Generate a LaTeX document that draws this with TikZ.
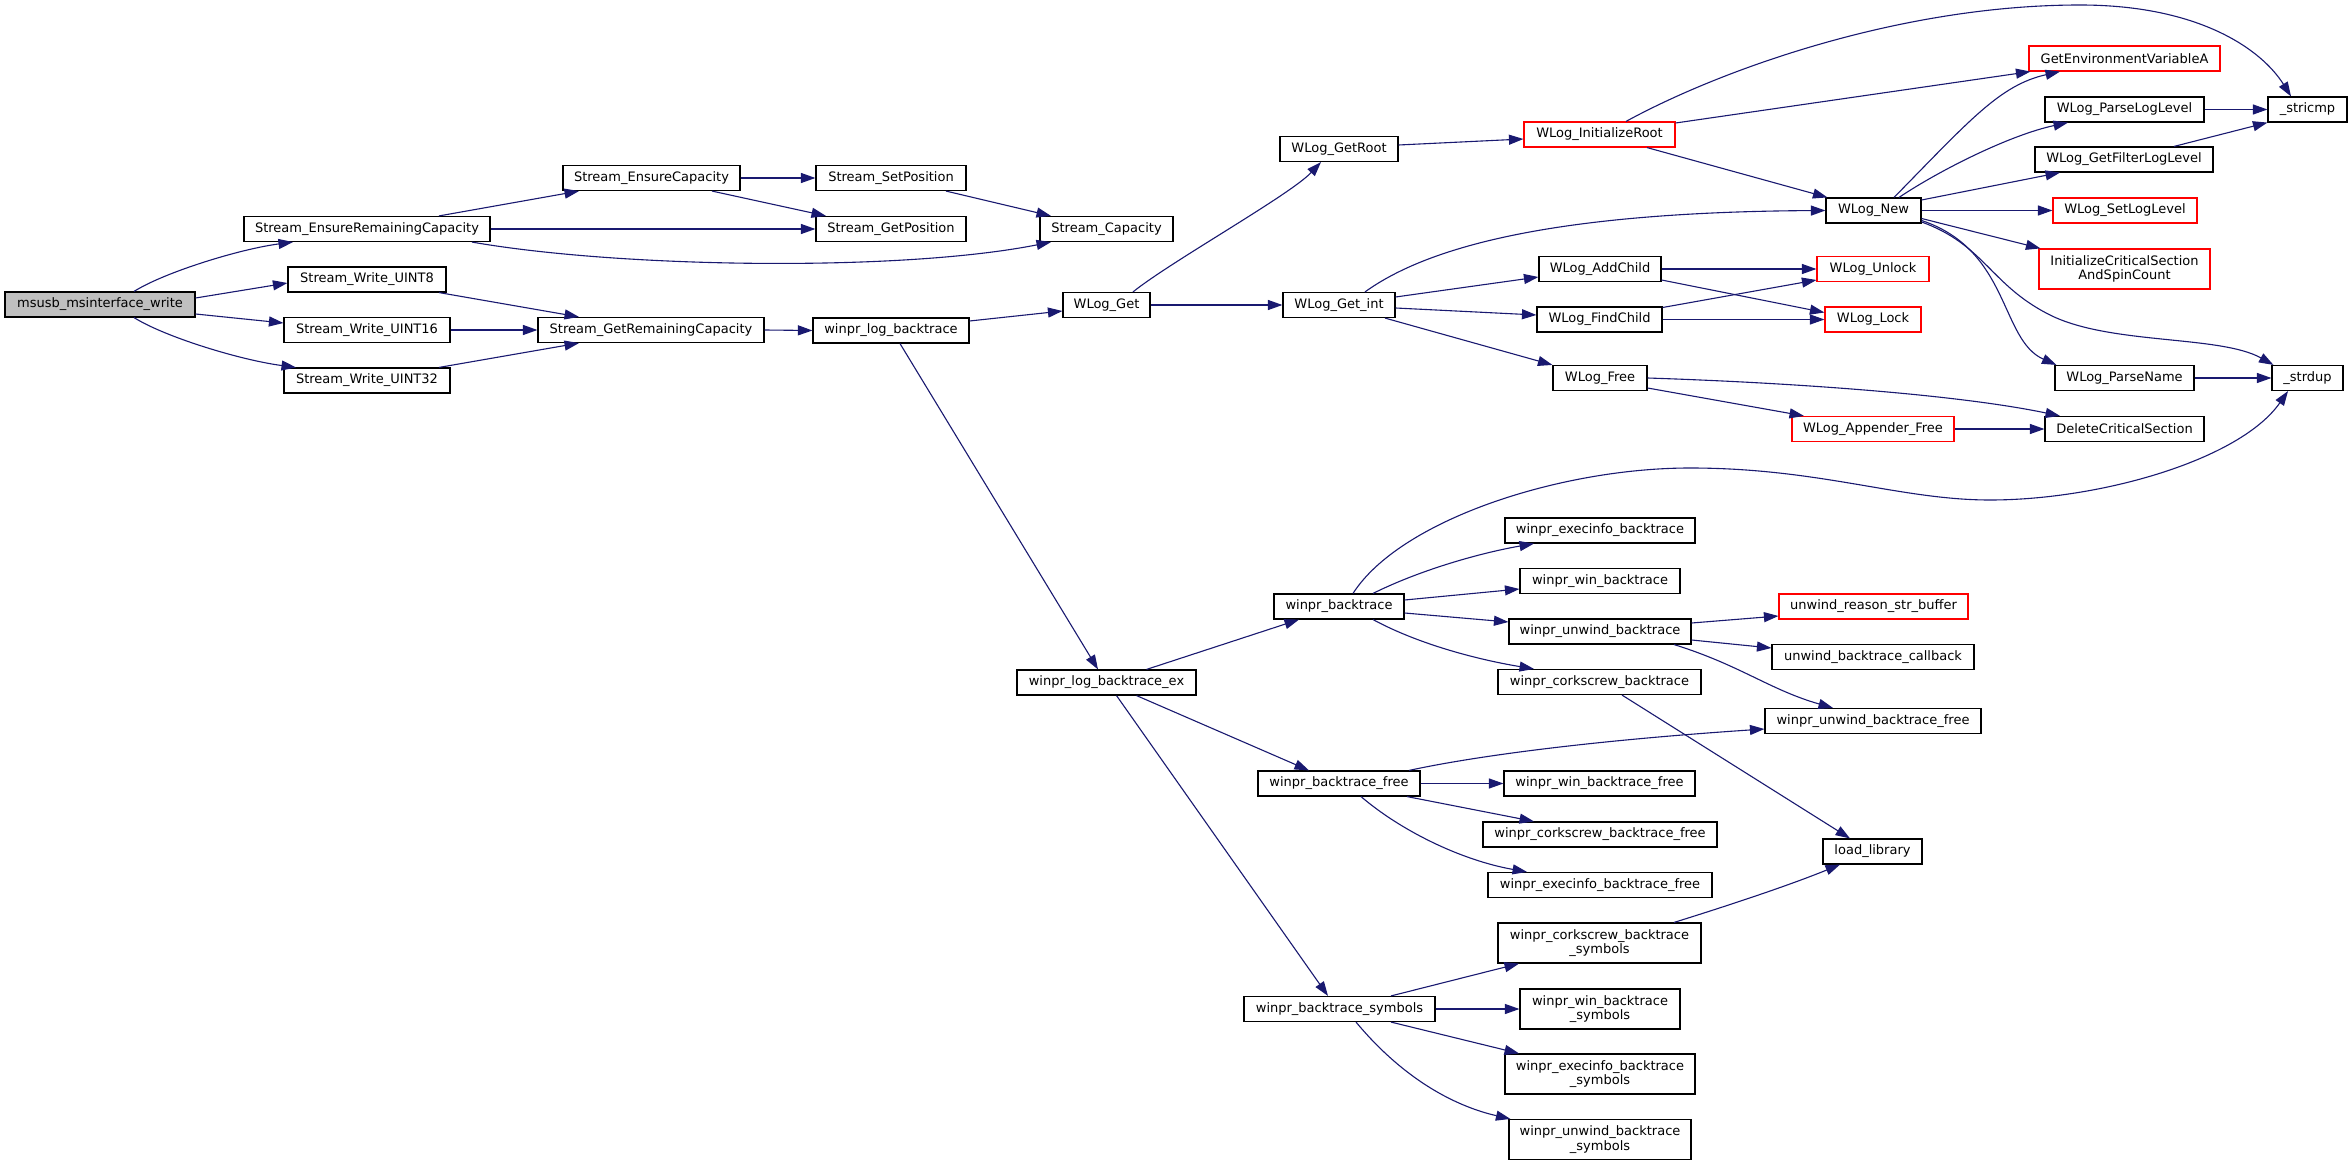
\documentclass[tikz,border=0pt]{standalone}
\usepackage{fontspec}
\setmainfont{DejaVu Sans}
\usetikzlibrary{arrows.meta,calc}
\definecolor{edgeblue}{RGB}{25,25,112}
\definecolor{rootgray}{RGB}{191,191,191}
\begin{document}
\begin{tikzpicture}[x=1pt,y=-1pt,
  box/.style={draw=black, line width=1.15pt, fill=white, rectangle, inner sep=0pt,
    font=\fontsize{13}{14.5}\selectfont, align=center, minimum height=25pt},
  redbox/.style={box, draw=red},
  rootbox/.style={box, fill=rootgray},
  edge/.style={draw=edgeblue, line width=1.1pt, -{Triangle[length=14.5pt,width=10pt]}},
]
\fill[white] (0,0) rectangle (2352,1166);
\useasboundingbox (0,0) rectangle (2352,1166);

\node[rootbox, minimum width=190pt] (msusb) at (100,304.5) {msusb\_msinterface\_write};
\node[box, minimum width=246pt] (serc) at (367,229) {Stream\_EnsureRemainingCapacity};
\node[box, minimum width=158pt] (swu8) at (367,279.5) {Stream\_Write\_UINT8};
\node[box, minimum width=166pt] (swu16) at (367,330) {Stream\_Write\_UINT16};
\node[box, minimum width=166pt] (swu32) at (367,380.5) {Stream\_Write\_UINT32};
\node[box, minimum width=177pt] (sec) at (651.5,178) {Stream\_EnsureCapacity};
\node[box, minimum width=226pt] (sgrc) at (651,330) {Stream\_GetRemainingCapacity};
\node[box, minimum width=150pt] (ssp) at (891,178) {Stream\_SetPosition};
\node[box, minimum width=150pt] (sgp) at (891,229) {Stream\_GetPosition};
\node[box, minimum width=133pt] (scap) at (1106.5,229) {Stream\_Capacity};
\node[box, minimum width=156pt] (wlb) at (891,330.5) {winpr\_log\_backtrace};
\node[box, minimum width=87pt] (wget) at (1106.5,305) {WLog\_Get};
\node[box, minimum width=118pt] (wgetroot) at (1339,149) {WLog\_GetRoot};
\node[box, minimum width=112pt] (wgetint) at (1339,305) {WLog\_Get\_int};
\node[redbox, minimum width=151pt] (winitroot) at (1599.5,134.5) {WLog\_InitializeRoot};
\node[redbox, minimum width=191pt] (geva) at (2124.5,58.5) {GetEnvironmentVariableA};
\node[box, minimum width=159pt] (wpll) at (2124.5,109.5) {WLog\_ParseLogLevel};
\node[box, minimum width=79pt] (stricmp) at (2307.5,109.5) {\_stricmp};
\node[box, minimum width=178pt] (wgfll) at (2124,159.5) {WLog\_GetFilterLogLevel};
\node[box, minimum width=95pt] (wnew) at (1873.5,210.5) {WLog\_New};
\node[redbox, minimum width=144pt] (wsll) at (2125,210.5) {WLog\_SetLogLevel};
\node[redbox, minimum width=171pt, minimum height=40pt] (ics) at (2124.5,269) {InitializeCriticalSection\\AndSpinCount};
\node[box, minimum width=122pt] (waddchild) at (1600,269) {WLog\_AddChild};
\node[redbox, minimum width=112pt] (wunlock) at (1873,269) {WLog\_Unlock};
\node[box, minimum width=125pt] (wfindchild) at (1599.5,319.5) {WLog\_FindChild};
\node[redbox, minimum width=96pt] (wlock) at (1873,319.5) {WLog\_Lock};
\node[box, minimum width=94pt] (wfree) at (1600,378) {WLog\_Free};
\node[redbox, minimum width=162pt] (wappfree) at (1873,429) {WLog\_Appender\_Free};
\node[box, minimum width=159pt] (dcs) at (2124.5,429) {DeleteCriticalSection};
\node[box, minimum width=139pt] (wparsename) at (2124.5,378) {WLog\_ParseName};
\node[box, minimum width=71pt] (strdup) at (2307.5,378) {\_strdup};
\node[box, minimum width=179pt] (wlbex) at (1106.5,682.5) {winpr\_log\_backtrace\_ex};
\node[box, minimum width=130pt] (wbt) at (1339,606.5) {winpr\_backtrace};
\node[box, minimum width=190pt] (webt) at (1600,530.5) {winpr\_execinfo\_backtrace};
\node[box, minimum width=160pt] (wwbt) at (1600,581) {winpr\_win\_backtrace};
\node[box, minimum width=182pt] (wubt) at (1600,631.5) {winpr\_unwind\_backtrace};
\node[redbox, minimum width=189pt] (ursb) at (1873.5,606.5) {unwind\_reason\_str\_buffer};
\node[box, minimum width=202pt] (ubc) at (1873,657) {unwind\_backtrace\_callback};
\node[box, minimum width=203pt] (wcbt) at (1599.5,682) {winpr\_corkscrew\_backtrace};
\node[box, minimum width=216pt] (wubtf) at (1873,721) {winpr\_unwind\_backtrace\_free};
\node[box, minimum width=162pt] (wbtf) at (1339,783.5) {winpr\_backtrace\_free};
\node[box, minimum width=191pt] (wwbtf) at (1599.5,783.5) {winpr\_win\_backtrace\_free};
\node[box, minimum width=234pt] (wcbtf) at (1600,834.5) {winpr\_corkscrew\_backtrace\_free};
\node[box, minimum width=224pt] (webtf) at (1600,885) {winpr\_execinfo\_backtrace\_free};
\node[box, minimum width=99pt] (loadlib) at (1872.5,851.5) {load\_library};
\node[box, minimum width=203pt, minimum height=40pt] (wcbts) at (1599.5,943) {winpr\_corkscrew\_backtrace\\\_symbols};
\node[box, minimum width=191pt] (wbts) at (1339.5,1009) {winpr\_backtrace\_symbols};
\node[box, minimum width=160pt, minimum height=40pt] (wwbts) at (1600,1009) {winpr\_win\_backtrace\\\_symbols};
\node[box, minimum width=190pt, minimum height=40pt] (webts) at (1600,1074) {winpr\_execinfo\_backtrace\\\_symbols};
\node[box, minimum width=182pt, minimum height=40pt] (wubts) at (1600,1139.5) {winpr\_unwind\_backtrace\\\_symbols};

% edges
\draw[edge] ($(msusb.north)+(34,0)$) .. controls (165,272) and (240,249) .. ($(serc.south)+(-74,0)$);
\draw[edge] ($(msusb.east)+(0,-6.5)$) -- ($(swu8.west)+(0,3.5)$);
\draw[edge] ($(msusb.east)+(0,9.5)$) -- ($(swu16.west)+(0,-7)$);
\draw[edge] ($(msusb.south)+(34,0)$) .. controls (165,337) and (240,360) .. ($(swu32.north)+(-71,0)$);
\draw[edge] ($(serc.north)+(72,0)$) -- ($(sec.south)+(-72.5,0)$);
\draw[edge] (serc.east) -- (sgp.west);
\draw[edge] ($(serc.south)+(105,0)$) .. controls (620,268) and (900,272) .. ($(scap.south)+(-55.5,0)$);
\draw[edge] (sec.east) -- (ssp.west);
\draw[edge] ($(sec.south)+(60.5,0)$) -- ($(sgp.north)+(-65,0)$);
\draw[edge] ($(ssp.south)+(55,0)$) -- ($(scap.north)+(-55.5,0)$);
\draw[edge] ($(swu8.south)+(72,0)$) -- ($(sgrc.north)+(-72,0)$);
\draw[edge] (swu16.east) -- (sgrc.west);
\draw[edge] ($(swu32.north)+(72,0)$) -- ($(sgrc.south)+(-72,0)$);
\draw[edge] (sgrc.east) -- (wlb.west);
\draw[edge] ($(wlb.east)+(0,-9.5)$) -- ($(wget.west)+(0,6)$);
\draw[edge] ($(wlb.south)+(9,0)$) -- ($(wlbex.north)+(-8.5,0)$);
\draw[edge] ($(wget.north)+(26.5,0)$) .. controls (1170,262) and (1290,195) .. ($(wgetroot.south)+(-18,0)$);
\draw[edge] (wget.east) -- (wgetint.west);
\draw[edge] ($(wgetroot.east)+(0,-4)$) -- ($(winitroot.west)+(0,4.5)$);
\draw[edge] ($(winitroot.north)+(26.5,0)$) .. controls (1720,70) and (1900,5) .. (2080,5) .. controls (2200,5) and (2262,50) .. ($(stricmp.north)+(-16.5,0)$);
\draw[edge] ($(winitroot.east)+(0,-11.5)$) -- ($(geva.south west)+(2,0)$);
\draw[edge] ($(winitroot.south)+(47.5,0)$) -- ($(wnew.north west)+(2,0)$);
\draw[edge] ($(wgetint.north)+(26,0)$) .. controls (1430,245) and (1560,212) .. (wnew.west);
\draw[edge] ($(wgetint.east)+(0,-8)$) -- ($(waddchild.west)+(0,8)$);
\draw[edge] ($(wgetint.east)+(0,3)$) -- ($(wfindchild.west)+(0,-4.5)$);
\draw[edge] ($(wgetint.south)+(46,0)$) -- (wfree.north west);
\draw[edge] (waddchild.east) -- (wunlock.west);
\draw[edge] ($(waddchild.east)+(0,11)$) -- ($(wlock.west)+(0,-7)$);
\draw[edge] ($(wfindchild.east)+(0,-12)$) -- ($(wunlock.west)+(0,11)$);
\draw[edge] (wfindchild.east) -- (wlock.west);
\draw[edge] (wfree.east) .. controls (1800,383) and (1960,395) .. ($(dcs.north)+(-64.5,0)$);
\draw[edge] ($(wfree.east)+(0,10)$) -- ($(wappfree.north)+(-69,0)$);
\draw[edge] (wappfree.east) -- (dcs.west);
\draw[edge] ($(wnew.north)+(20.5,0)$) .. controls (1970,120) and (2000,85) .. ($(geva.south)+(-64.5,0)$);
\draw[edge] ($(wnew.north)+(25.5,0)$) .. controls (1940,170) and (2010,135) .. ($(wpll.south)+(-56.5,0)$);
\draw[edge] ($(wnew.east)+(0,-10.5)$) -- ($(wgfll.south)+(-64,0)$);
\draw[edge] (wnew.east) -- (wsll.west);
\draw[edge] ($(wnew.east)+(0,8)$) -- ($(ics.north west)+(2,0)$);
\draw[edge] ($(wnew.east)+(0,10)$) .. controls (2010,250) and (2000,340) .. ($(wparsename.north west)+(2,0)$);
\draw[edge] ($(wnew.east)+(0,11.5)$) .. controls (1985,245) and (1990,285) .. (2050,315) .. controls (2110,345) and (2220,335) .. ($(strdup.north west)+(2,0)$);
\draw[edge] (wpll.east) -- (stricmp.west);
\draw[edge] ($(wgfll.north)+(50,0)$) -- (stricmp.south west);
\draw[edge] (wparsename.east) -- (strdup.west);
\draw[edge] ($(wlbex.north)+(40,0)$) -- ($(wbt.south)+(-40,0)$);
\draw[edge] ($(wlbex.south)+(30,0)$) -- ($(wbtf.north)+(-30,0)$);
\draw[edge] ($(wlbex.south)+(10,0)$) -- ($(wbts.north)+(-11.5,0)$);
\draw[edge] ($(wbt.north)+(14,0)$) .. controls (1400,520) and (1560,468) .. (1690,468) .. controls (1820,468) and (1900,500) .. (1990,500) .. controls (2100,500) and (2240,460) .. ($(strdup.south)+(-19.5,0)$);
\draw[edge] ($(wbt.north)+(34,0)$) .. controls (1420,570) and (1480,553) .. ($(webt.south)+(-66,0)$);
\draw[edge] ($(wbt.east)+(0,-6.5)$) -- ($(wwbt.west)+(0,8)$);
\draw[edge] ($(wbt.east)+(0,6.5)$) -- ($(wubt.west)+(0,-9.5)$);
\draw[edge] ($(wbt.south)+(34,0)$) .. controls (1420,645) and (1480,660) .. ($(wcbt.north)+(-65.5,0)$);
\draw[edge] ($(wubt.east)+(0,-8.5)$) -- ($(ursb.west)+(0,9.5)$);
\draw[edge] ($(wubt.east)+(0,8.5)$) -- ($(ubc.west)+(0,-9)$);
\draw[edge] ($(wubt.south)+(74,0)$) .. controls (1740,665) and (1770,690) .. ($(wubtf.north)+(-40,0)$);
\draw[edge] ($(wcbt.south)+(22.5,0)$) -- ($(loadlib.north)+(-22.5,0)$);
\draw[edge] ($(wbtf.north)+(70,0)$) .. controls (1480,755) and (1600,740) .. ($(wubtf.west)+(0,8)$);
\draw[edge] (wbtf.east) -- (wwbtf.west);
\draw[edge] ($(wbtf.south)+(68,0)$) -- ($(wcbtf.north)+(-66,0)$);
\draw[edge] ($(wbtf.south)+(22,0)$) .. controls (1400,830) and (1460,860) .. ($(webtf.north)+(-73,0)$);
\draw[edge] ($(wcbts.north)+(74.5,0)$) .. controls (1730,905) and (1790,885) .. ($(loadlib.south)+(-32.5,0)$);
\draw[edge] ($(wbts.north)+(51.5,0)$) -- ($(wcbts.south)+(-80.5,0)$);
\draw[edge] (wbts.east) -- (wwbts.west);
\draw[edge] ($(wbts.south)+(51.5,0)$) -- ($(webts.north)+(-81,0)$);
\draw[edge] ($(wbts.south)+(16.5,0)$) .. controls (1400,1075) and (1450,1105) .. ($(wubts.north west)+(2,0)$);
\end{tikzpicture}
\end{document}
